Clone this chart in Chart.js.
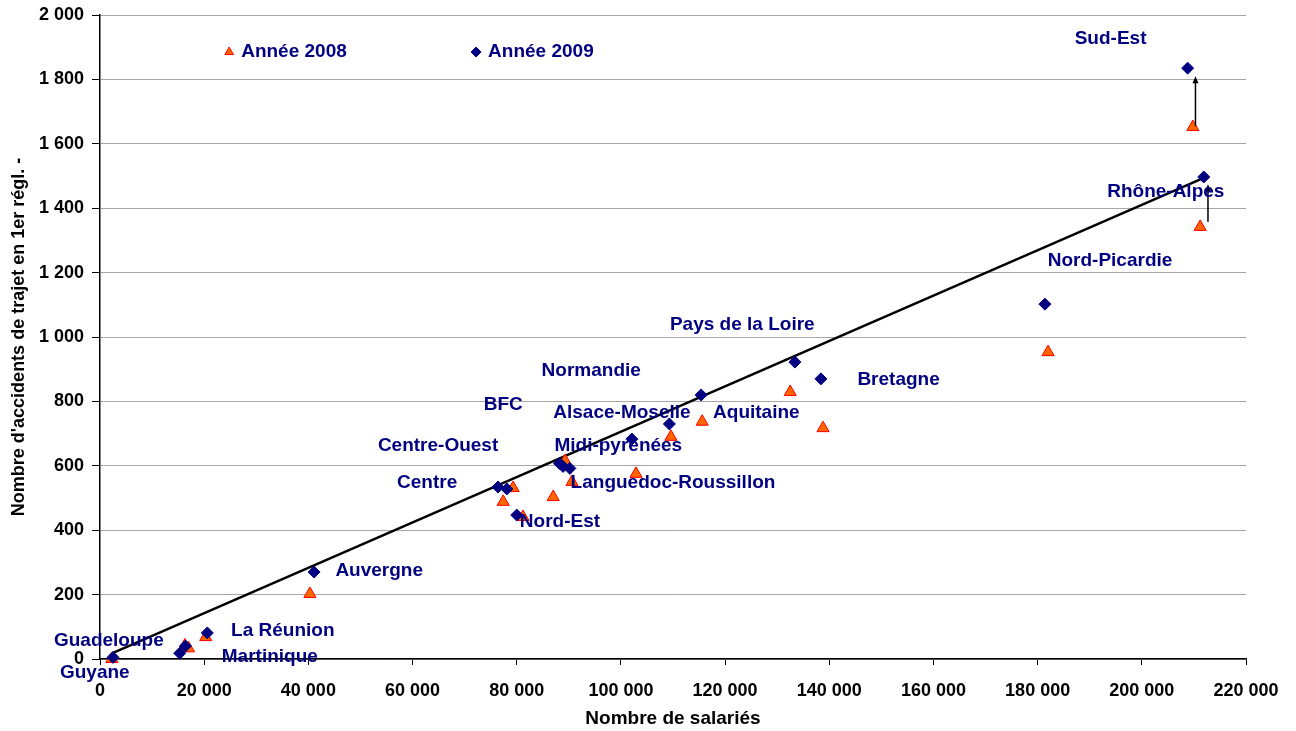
<!DOCTYPE html>
<html>
<head>
<meta charset="utf-8">
<script src="https://cdn.jsdelivr.net/npm/chart.js@4"></script>
<style>
  body { margin: 0; background: #fff; }
  canvas { display: block; }
</style>
</head>
<body>
<canvas id="chart" width="1296" height="731"></canvas>
<script>
// salariés / accidents de trajet, par caisse régionale
const salaries2008 = [2300, 16300, 17000, 20300, 40300, 79300, 77400, 81200, 87000, 89300, 90600, 102900, 109600, 115600, 132500, 138800, 182000, 209800, 211200];
const accidents2008 = [0, 42, 33, 68, 202, 531, 488, 441, 503, 615, 550, 575, 690, 737, 829, 717, 953, 1652, 1342];

const salaries2009 = [2500, 15300, 16400, 20600, 41100, 76400, 78100, 80000, 88200, 88900, 90200, 102100, 109300, 115400, 133400, 138400, 181400, 208800, 211900];
const accidents2009 = [5, 18, 40, 81, 270, 534, 528, 447, 607, 598, 592, 683, 730, 820, 922, 870, 1102, 1835, 1497];

// droite de tendance
const trendX = [2500, 211900];
const trendY = [19, 1494];

// flèches 2008 -> 2009
const arrowX = [210300, 212700];
const arrowFrom = [1655, 1358];
const arrowTo = [1810, 1474];

// étiquettes des régions (position en unités du graphique)
const regionNames = ["Sud-Est", "Rhône-Alpes", "Nord-Picardie", "Pays de la Loire", "Bretagne", "Normandie", "BFC", "Alsace-Moselle", "Aquitaine", "Centre-Ouest", "Midi-pyrénées", "Centre", "Languedoc-Roussillon", "Nord-Est", "Auvergne", "La Réunion", "Guadeloupe", "Martinique", "Guyane"];
const regionX = [194000, 204600, 193900, 123300, 153300, 94300, 77400, 100200, 126000, 64900, 99500, 62800, 110000, 88300, 53600, 35100, 1700, 32600, -1000];
const regionY = [1925, 1450, 1236, 1037, 866, 894, 789, 764, 764, 662, 662, 547, 547, 426, 273, 87, 56, 6, -43];

const legendNames = ["Année 2008", "Année 2009"];
const legendX = [24800, 72200];
const legendY = [1885, 1885];

const fmt = v => String(v).replace(/\B(?=(\d{3})+(?!\d))/g, " ");
const navy = "#000080";
const font = '"Liberation Sans", Arial, sans-serif';

const annotations = {
  id: "annotations",
  afterDatasetsDraw(chart) {
    const ctx = chart.ctx;
    const xs = chart.scales.x, ys = chart.scales.y;
    ctx.save();

    // flèches
    ctx.strokeStyle = "#000";
    ctx.fillStyle = "#000";
    ctx.lineWidth = 1.5;
    arrowX.forEach((v, i) => {
      const x = xs.getPixelForValue(v);
      const y0 = ys.getPixelForValue(arrowFrom[i]);
      const y1 = ys.getPixelForValue(arrowTo[i]);
      ctx.beginPath();
      ctx.moveTo(x, y0);
      ctx.lineTo(x, y1 + 5);
      ctx.stroke();
      ctx.beginPath();
      ctx.moveTo(x, y1);
      ctx.lineTo(x - 3, y1 + 7);
      ctx.lineTo(x + 3, y1 + 7);
      ctx.closePath();
      ctx.fill();
    });

    // noms des régions
    ctx.font = "bold 19px " + font;
    ctx.fillStyle = navy;
    ctx.textAlign = "center";
    ctx.textBaseline = "middle";
    regionNames.forEach((name, i) => {
      ctx.fillText(name, xs.getPixelForValue(regionX[i]), ys.getPixelForValue(regionY[i]));
    });

    // légende
    const styles = [
      { pointStyle: "triangle", radius: 5, bg: "#FF6600", border: "#FF0000" },
      { pointStyle: "rectRot", radius: 5, bg: navy, border: navy }
    ];
    legendNames.forEach((name, i) => {
      const x = xs.getPixelForValue(legendX[i]);
      const y = ys.getPixelForValue(legendY[i]);
      ctx.fillStyle = styles[i].bg;
      ctx.strokeStyle = styles[i].border;
      ctx.lineWidth = 1;
      Chart.helpers.drawPoint(ctx, { pointStyle: styles[i].pointStyle, radius: styles[i].radius, rotation: 0, borderWidth: 1 }, x, y);
      ctx.fillStyle = navy;
      ctx.textAlign = "left";
      ctx.fillText(name, x + 12, y);
    });
    ctx.restore();
  }
};

new Chart(document.getElementById("chart"), {
  type: "scatter",
  data: {
    datasets: [
      {
        label: "Année 2009",
        data: salaries2009.map((x, i) => ({ x, y: accidents2009[i] })),
        pointStyle: "rectRot",
        pointRadius: 6,
        backgroundColor: navy,
        borderColor: navy,
        borderWidth: 1,
        order: 0
      },
      {
        label: "Année 2008",
        data: salaries2008.map((x, i) => ({ x, y: accidents2008[i] })),
        pointStyle: "triangle",
        pointRadius: 7,
        backgroundColor: "#FF6600",
        borderColor: "#FF0000",
        borderWidth: 1,
        order: 1
      },
      {
        label: "Tendance",
        type: "line",
        data: trendX.map((x, i) => ({ x, y: trendY[i] })),
        borderColor: "#000",
        borderWidth: 2.5,
        pointRadius: 0,
        fill: false,
        order: 2
      }
    ]
  },
  options: {
    responsive: false,
    devicePixelRatio: 1,
    animation: false,
    clip: false,
    layout: { padding: { top: 15, right: 50, left: 0, bottom: 0 } },
    plugins: {
      legend: { display: false },
      tooltip: { enabled: false }
    },
    scales: {
      x: {
        type: "linear",
        min: 0,
        max: 220000,
        afterFit: s => { s.height = 72; s.paddingLeft = 0; s.paddingRight = 0; },
        ticks: {
          stepSize: 20000,
          padding: 15,
          color: "#000",
          font: { family: font, size: 18, weight: "bold" },
          callback: v => fmt(v)
        },
        grid: { drawOnChartArea: false, tickLength: 6, tickColor: "#000" },
        border: { color: "#000", width: 1.5 },
        title: {
          display: true,
          text: "Nombre de salariés",
          color: "#000",
          font: { family: font, size: 19, weight: "bold" },
          padding: { top: 0, bottom: 1 }
        }
      },
      y: {
        min: 0,
        max: 2000,
        afterFit: s => { s.width = 100; s.paddingTop = 0; s.paddingBottom = 0; },
        ticks: {
          stepSize: 200,
          padding: 8,
          color: "#000",
          font: { family: font, size: 18, weight: "bold" },
          callback: v => fmt(v)
        },
        grid: { color: "#a6a6a6", lineWidth: 1, tickLength: 8, tickColor: "#000" },
        border: { color: "#000", width: 1.5 },
        title: {
          display: true,
          text: "Nombre d'accidents de trajet en 1er régl. -",
          color: "#000",
          font: { family: font, size: 18, weight: "bold" },
          padding: { top: 8, bottom: 0 }
        }
      }
    }
  },
  plugins: [annotations]
});
</script>
</body>
</html>
